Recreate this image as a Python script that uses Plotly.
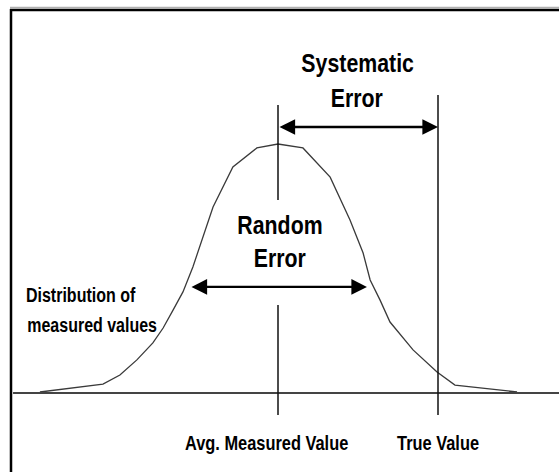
import plotly.graph_objects as go

# ---- data (measurement units / relative frequency) ----
curve_x = [2.56, 4.53, 5.06, 5.59, 6.09, 6.41, 6.72, 7.03, 7.34, 7.66, 7.97, 8.59, 9.34,
           10.0, 10.78, 11.63, 12.25, 12.66, 12.88, 13.19, 13.5, 14.22, 14.97, 15.53,
           16.41, 17.47]
curve_y = [0.4, 3.6, 7.2, 13.3, 20.1, 26.1, 33.3, 40.6, 50.6, 62.7, 74.7, 90.8, 98.4,
           100.0, 98.4, 86.7, 69.5, 56.2, 45.4, 37.3, 28.5, 17.3, 8.4, 3.2, 2.0, 0.4]
avg_value = 10.0
true_value = 15.0
random_lo = 7.25
random_hi = 12.78
axis_labels = ["Avg. Measured Value", "True Value"]

FONT = "Liberation Sans, Arial, sans-serif"
LINE = "#111111"

fig = go.Figure()

# distribution curve
fig.add_trace(go.Scatter(x=curve_x, y=curve_y, mode="lines",
                         line=dict(color="#3a3a3a", width=1.3), hoverinfo="skip"))
# baseline
fig.add_trace(go.Scatter(x=[1.72, 18.8], y=[0, 0], mode="lines",
                         line=dict(color="#444444", width=2), hoverinfo="skip"))
# avg measured value line (two segments)
fig.add_trace(go.Scatter(x=[avg_value, avg_value, None, avg_value, avg_value],
                         y=[115.7, 77.5, None, 35.3, -8.8], mode="lines",
                         line=dict(color=LINE, width=1.5), hoverinfo="skip"))
# true value line
fig.add_trace(go.Scatter(x=[true_value, true_value], y=[119.7, -8.8], mode="lines",
                         line=dict(color=LINE, width=1.5), hoverinfo="skip"))

anns = []
# double arrows
for (x0, x1, y) in [(avg_value, true_value, 106.8), (random_lo, random_hi, 42.6)]:
    anns.append(dict(x=x1, y=y, ax=x0, ay=y, xref="x", yref="y", axref="x", ayref="y",
                     text="", showarrow=True, arrowhead=2, startarrowhead=2,
                     arrowside="end+start", arrowsize=1.3, startarrowsize=1.3,
                     arrowwidth=2.4, arrowcolor="#000000", standoff=0, startstandoff=0))

def txt(x, y, s, size):
    anns.append(dict(x=x, y=y, xref="x", yref="y", text="<b>%s</b>" % s, showarrow=False,
                     xanchor="center", yanchor="middle",
                     font=dict(family=FONT, size=size, color="#000000")))

txt(12.47, 132.5, "Systematic", 26)
txt(12.47, 118.5, "Error", 26)
txt(10.06, 67.5, "Random", 26)
txt(10.06, 54.2, "Error", 26)
txt(3.84, 39.4, "Distribution of", 19.5)
txt(4.19, 27.3, "measured values", 19.5)
txt(9.63, -20.1, axis_labels[0], 20)
txt(true_value, -20.1, axis_labels[1], 20)

fig.update_layout(
    width=559, height=472,
    margin=dict(l=0, r=0, t=0, b=0),
    paper_bgcolor="white", plot_bgcolor="white",
    showlegend=False,
    annotations=anns,
    xaxis=dict(range=[1.3125, 18.78125], visible=False, fixedrange=True),
    yaxis=dict(range=[-31.73, 157.83], visible=False, fixedrange=True),
    shapes=[
        dict(type="line", xref="paper", yref="paper", x0=10/559, x1=1, y0=1-7.5/472, y1=1-7.5/472,
             line=dict(color="#b0b0b0", width=1.5)),
        dict(type="line", xref="paper", yref="paper", x0=10/559, x1=1, y0=1-10/472, y1=1-10/472,
             line=dict(color="#000000", width=2.5)),
        dict(type="line", xref="paper", yref="paper", x0=11/559, x1=11/559, y0=0, y1=1-9/472,
             line=dict(color="#000000", width=2.5)),
    ],
)

post = """
var s = document.createElement('style');
s.textContent = 'html,body{margin:0;padding:0;overflow:hidden;}' +
  ' .annotation-text{transform-box:fill-box;transform-origin:center;transform:scaleX(0.82);}';
document.head.appendChild(s);
"""

fig.write_html("out.html", post_script=post, config={"displayModeBar": False})
